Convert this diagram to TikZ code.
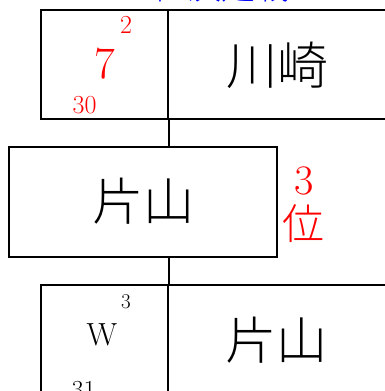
\documentclass[tikz,border=0pt]{standalone}
\usepackage{fontspec}
\IfFontExistsTF{Noto Sans CJK JP Light}
  {\newfontfamily\jp{Noto Sans CJK JP Light}}
  {\newfontfamily\jp{Noto Sans CJK JP}}
\begin{document}
\begin{tikzpicture}[x=1pt,y=-1pt,
  cell/.style={draw,line width=1.8pt,rectangle,inner sep=0pt},
  conn/.style={line width=1.8pt},
  lbl/.style={inner sep=0pt,anchor=center},
  big/.style={lbl,font=\jp\fontsize{51}{51}\selectfont},
  small/.style={lbl,font=\fontsize{26}{26}\selectfont}]
\useasboundingbox (0,0) rectangle (385,391);
\clip (0,0) rectangle (385,391);
% boxes
\node[cell,minimum width=127pt,minimum height=109pt] (topL) at (104.5,64.5) {};
\node[cell,minimum width=252pt,minimum height=109pt] (topR) at (294,64.5) {};
\node[cell,minimum width=268pt,minimum height=110pt] (mid) at (143,202) {};
\node[cell,minimum width=127pt,minimum height=109pt] (botL) at (104.5,339.5) {};
\node[cell,minimum width=252pt,minimum height=109pt] (botR) at (294,339.5) {};
% connectors
\draw[conn] (topL.south east) -- (topL.south east |- mid.north);
\draw[conn] (topL.south east |- mid.south) -- (botL.north east);
% title
\node[lbl,text=blue,font=\jp\fontsize{34}{34}\selectfont] (title) at (212,-13.5) {3位決定戦};
% top
\node[small,text=red] (t2) at (126,24.5) {2};
\node[lbl,text=red,font=\fontsize{45}{45}\selectfont] (t7) at (105,63.5) {7};
\node[small,text=red] (t30) at (84.5,105.5) {30};
\node[big] (kawasaki) at (277,65) {川崎};
% middle
\node[big] (katayama1) at (143,201.5) {片山};
\node[lbl,text=red,font=\fontsize{42}{42}\selectfont] (m3) at (304,180.5) {3};
\node[lbl,text=red,font=\jp\fontsize{42}{42}\selectfont] (rank) at (303,224) {位};
% bottom
\node[lbl,font=\fontsize{21}{21}\selectfont] (b3) at (126,301.5) {3};
\node[lbl,font=\fontsize{32}{32}\selectfont] (bW) at (102,335) {W};
\node[small] (b31) at (83.5,390.5) {31};
\node[big] (katayama2) at (276,340) {片山};
\end{tikzpicture}
\end{document}
